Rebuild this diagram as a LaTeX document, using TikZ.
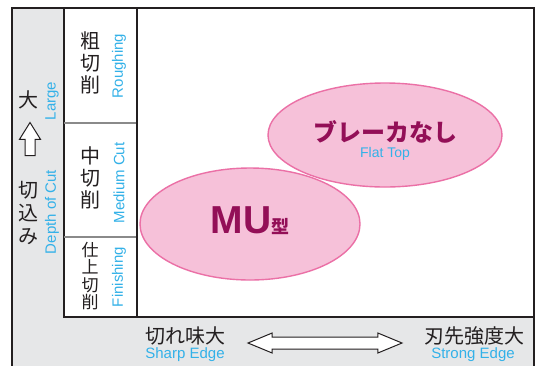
\documentclass[tikz,border=0pt]{standalone}
\usepackage{fontspec}
\setmainfont{Liberation Sans}
\newfontfamily\jp{Noto Sans CJK JP}
\usetikzlibrary{shapes.arrows}

\definecolor{panelgray}{HTML}{E6E7E8}
\definecolor{inkline}{HTML}{231F20}
\definecolor{rowgray}{HTML}{8A8A8A}
\definecolor{pinkfill}{HTML}{F6C1D9}
\definecolor{pinkline}{HTML}{EB70A6}
\definecolor{plum}{HTML}{930F57}
\definecolor{engblue}{HTML}{33B1E8}

\tikzset{
  jptext/.style={font=\jp\fontsize{20}{22}\selectfont, text=inkline, align=center, inner sep=0pt},
  entext/.style={font=\fontsize{15}{15}\selectfont, text=engblue, inner sep=0pt},
  sidetext/.style={entext, rotate=90},
  zone/.style={draw=pinkline, line width=1.4pt, fill=pinkfill}
}

\begin{document}
\begin{tikzpicture}[x=1pt,y=-1pt]
\useasboundingbox (0,0) rectangle (537,365);

% outer panel
\fill[panelgray] (12,8) rectangle (534,370);
\draw[inkline, line width=1.8pt] (12,370) -- (12,8) -- (534,8) -- (534,370);

% chart area
\draw[inkline, line width=1.8pt, fill=white] (64,8) rectangle (534,317);
\draw[inkline, line width=1.8pt] (137,8) -- (137,317);
\draw[rowgray, line width=1.2pt] (64,123) -- (136,123);
\draw[rowgray, line width=1.2pt] (64,237) -- (136,237);

% depth of cut axis
\node[jptext] (big) at (28,100) {大};
\node[sidetext] (large) at (52,101) {Large};
\node[single arrow, draw=inkline, fill=white, line width=1pt, rotate=90,
      minimum height=33pt, inner sep=4.5pt, single arrow head extend=5.5pt,
      single arrow tip angle=64] (uparrow) at (30,143) {};
\node[jptext, font=\jp\fontsize{20}{23}\selectfont] (depth) at (28,213) {切\\込\\み};
\node[sidetext] (depthen) at (52,212) {Depth of Cut};

% rows
\node[jptext] (rough) at (90,63) {粗\\切\\削};
\node[sidetext] (roughen) at (119,66) {Roughing};

\node[jptext] (medium) at (90,178) {中\\切\\削};
\node[sidetext] (mediumen) at (119,183) {Medium Cut};

\node[jptext, font=\jp\fontsize{17}{17.5}\selectfont] (finish) at (90,276) {仕\\上\\切\\削};
\node[sidetext] (finishen) at (119,277) {Finishing};

% edge axis
\node[jptext] (sharp) at (185,336) {切れ味大};
\node[entext] (sharpen) at (185,355) {Sharp Edge};
\node[double arrow, draw=inkline, fill=white, line width=1pt,
      minimum height=154pt, inner sep=5.5pt, double arrow head extend=4pt,
      double arrow tip angle=45] (edgearrow) at (325,343) {};
\node[jptext] (strong) at (474,336) {刃先強度大};
\node[entext] (strongen) at (473,355) {Strong Edge};

% breaker zones
\draw[zone] (250,224) ellipse [x radius=110, y radius=56];
\draw[zone] (385,135) ellipse [x radius=117, y radius=52];

\node[text=plum, inner sep=0pt] (mu) at (250,221)
  {\fontsize{39}{39}\selectfont\bfseries MU{\jp\fontsize{18}{18}\selectfont\bfseries 型}};
\node[text=plum, inner sep=0pt, font=\jp\fontsize{24}{24}\selectfont\bfseries] (flat) at (385,132) {ブレーカなし};
\node[entext, font=\fontsize{14}{14}\selectfont] (flaten) at (385,154) {Flat Top};

\end{tikzpicture}
\end{document}
